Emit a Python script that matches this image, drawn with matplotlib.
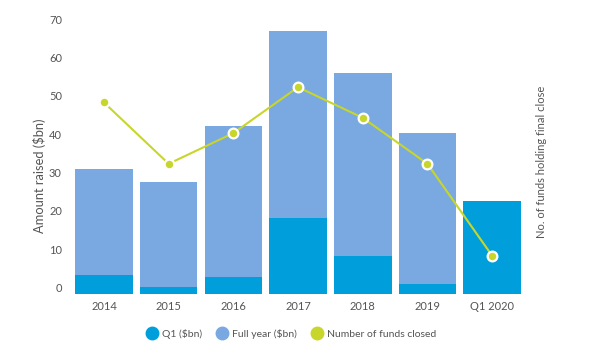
import numpy as np
import matplotlib
matplotlib.use('Agg')
import matplotlib.pyplot as plt
from matplotlib.lines import Line2D

plt.rcParams['font.family'] = ['Lato', 'DejaVu Sans']

# data
periods = ['2014', '2015', '2016', '2017', '2018', '2019', 'Q1 2020']
full_year = [32.6, 29.3, 43.9, 68.7, 57.8, 42.0, 0]
q1 = [5.0, 1.9, 4.4, 19.8, 9.9, 2.6, 24.3]
funds_closed = [100, 68, 84, 108, 92, 68, 20]
yticks = [0, 10, 20, 30, 40, 50, 60, 70]

c_q1 = '#009fdb'
c_full = '#79a9e0'
c_line = '#c8d62b'
c_text = '#555555'

fig = plt.figure(figsize=(5.94, 3.54), dpi=100)
ax = fig.add_axes([0.1206, 0.1695, 0.7623, 0.779])
x = np.arange(len(periods))

ax.bar(x, full_year, width=0.89, color=c_full, zorder=2)
ax.bar(x, q1, width=0.89, color=c_q1, zorder=3)

ax.set_xlim(-0.5, 6.5)
ax.set_ylim(0, 72)
for s in ax.spines.values():
    s.set_visible(False)
ax.set_xticks(x)
ax.set_xticklabels(periods)
ax.set_yticks(yticks)
ax.tick_params(length=0, labelsize=8, colors=c_text)
ax.tick_params(axis='x', pad=5)
ax.tick_params(axis='y', pad=7)
for lab in ax.get_yticklabels():
    lab.set_verticalalignment('bottom')
ax.set_ylabel('Amount raised ($bn)', fontsize=9.3, color=c_text)
ax.yaxis.set_label_coords(-0.057, 0.43)

ax2 = ax.twinx()
ax2.set_ylim(0, 144)
ax2.plot(x, funds_closed, color=c_line, lw=1.5, marker='o', markersize=7,
         markerfacecolor=c_line, markeredgecolor='white', markeredgewidth=1.6,
         zorder=5)
for s in ax2.spines.values():
    s.set_visible(False)
ax2.set_yticks([])
ax2.set_ylabel('No. of funds holding final close', fontsize=8, color=c_text)
ax2.yaxis.set_label_coords(1.026, 0.48)

handles = [
    Line2D([], [], ls='none', marker='o', markersize=9, color=c_q1),
    Line2D([], [], ls='none', marker='o', markersize=9, color=c_full),
    Line2D([], [], ls='none', marker='o', markersize=9, color=c_line),
]
labels = ['Q1 ($bn)', 'Full year ($bn)', 'Number of funds closed']
fig.legend(handles, labels, loc='center', bbox_to_anchor=(0.49, 0.057),
           ncol=3, frameon=False, fontsize=7.5, labelcolor=c_text,
           handletextpad=0.4, columnspacing=1.3, handlelength=1.2)

fig.savefig('out.png', dpi=100)
